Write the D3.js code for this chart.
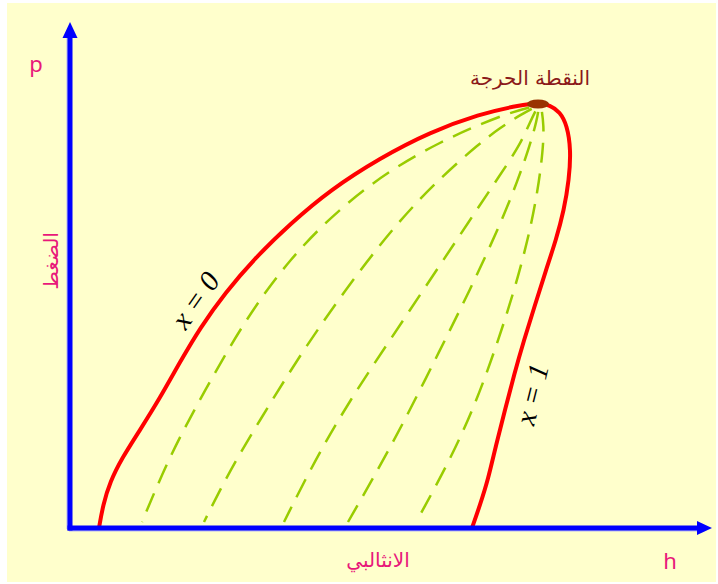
<!DOCTYPE html>
<html>
<head>
<meta charset="utf-8">
<script src="https://cdn.jsdelivr.net/npm/d3@7"></script>
<style>
  html, body { margin: 0; padding: 0; background: #fff; }
  svg { display: block; }
</style>
</head>
<body>
<div id="chart-container"></div>
<script>
// curve points, in (h, p) units
const liquidLine = [[2.9,0],[3.3,2.3],[4.0,4.6],[5.2,7.0],[7.0,9.8],[9.0,13.0],[11.0,16.6],[13.0,20.0],[15.5,23.5],[18.5,27.0],[22.0,30.4],[26.0,33.8],[31.0,37.0],[36.0,39.6],[41.0,41.4],[44.5,42.2],[46.8,42.5]];
const vaporLine = [[46.8,42.5],[48.0,42.3],[49.0,41.6],[49.7,40.3],[50.1,37.8],[49.9,34.8],[49.4,31.8],[48.6,28.8],[47.6,25.8],[46.5,22.3],[45.4,18.8],[44.4,15.3],[43.5,11.8],[42.6,8.3],[41.8,4.8],[41.0,2.3],[40.2,0]];
const qualityLines = [
  [[46.5,42.2],[44.2,41.6],[41.3,40.5],[37.0,38.6],[32.0,35.8],[27.0,32.0],[22.0,27.0],[17.5,20.8],[13.5,13.8],[10.0,7.3],[7.2,0.6]],
  [[46.7,42.2],[45.0,41.3],[43.0,40.0],[41.0,38.5],[37.0,35.0],[32.5,30.3],[27.5,23.8],[23.0,17.3],[19.0,10.8],[16.0,5.8],[13.4,0.6]],
  [[46.8,42.2],[46.0,40.6],[45.0,38.3],[43.0,35.3],[40.0,30.8],[36.0,24.8],[32.0,18.8],[28.0,12.8],[24.5,6.8],[21.4,0.6]],
  [[46.9,42.2],[46.7,40.8],[46.0,38.3],[44.8,34.8],[43.0,30.3],[40.0,23.8],[37.0,17.8],[33.5,10.8],[30.5,5.3],[27.8,0.6]],
  [[47.1,42.2],[47.4,40.3],[47.3,37.8],[46.8,33.8],[45.8,28.8],[44.3,23.3],[42.5,17.8],[40.5,12.3],[38.0,6.8],[35.0,1.3]]
];
const criticalPoint = [46.8, 42.4];

const hDomain = [0, 64], pDomain = [0, 50];
const labels = { p: "p", h: "h", pressure: "الضغط", enthalpy: "الانثالبي", critical: "النقطة الحرجة", x0: "x = 0", x1: "x = 1" };

const W = 718, H = 584;
const svg = d3.select("#chart-container").append("svg")
  .attr("width", W).attr("height", H);

svg.append("rect")
  .attr("x", 7).attr("y", 3).attr("width", 709).attr("height", 579)
  .attr("fill", "#ffffcc");

const x = d3.scaleLinear().domain(hDomain).range([70, 710]);
const y = d3.scaleLinear().domain(pDomain).range([528, 28]);

const line = d3.line()
  .x(d => x(d[0]))
  .y(d => y(d[1]))
  .curve(d3.curveBasis);

// dashed constant-quality lines
svg.selectAll(".quality")
  .data(qualityLines)
  .enter()
  .append("path")
  .attr("class", "quality")
  .attr("d", line)
  .attr("fill", "none")
  .attr("stroke", "#99cc00")
  .attr("stroke-width", 2.5)
  .attr("stroke-dasharray", "20,11")
  .attr("stroke-dashoffset", -6);

// saturation dome
[liquidLine, vaporLine].forEach(pts => {
  svg.append("path")
    .attr("d", line(pts))
    .attr("fill", "none")
    .attr("stroke", "#ff0000")
    .attr("stroke-width", 4)
    .attr("stroke-linecap", "round");
});

// axes
const x0 = x(0), y0 = y(0);
const xEnd = x(64) + 2, yEnd = y(50) - 6;

const shadow = svg.append("g").attr("stroke", "#b8b8f0").attr("stroke-width", 5);
shadow.append("line").attr("x1", x0 - 1).attr("y1", y0 + 1).attr("x2", xEnd - 14).attr("y2", y0 + 1);
shadow.append("line").attr("x1", x0 - 1).attr("y1", y0 + 1).attr("x2", x0 - 1).attr("y2", yEnd + 14);

const axes = svg.append("g").attr("stroke", "#0000ff").attr("stroke-width", 5);
axes.append("line").attr("x1", x0 - 2.5).attr("y1", y0).attr("x2", xEnd - 12).attr("y2", y0);
axes.append("line").attr("x1", x0).attr("y1", y0 + 2.5).attr("x2", x0).attr("y2", yEnd + 12);

svg.append("path")
  .attr("d", `M${xEnd},${y0} L${xEnd - 15},${y0 - 7} L${xEnd - 15},${y0 + 7} Z`)
  .attr("fill", "#0000ff");
svg.append("path")
  .attr("d", `M${x0},${yEnd} L${x0 - 7.5},${yEnd + 16} L${x0 + 7.5},${yEnd + 16} Z`)
  .attr("fill", "#0000ff");

// critical point
svg.append("ellipse")
  .attr("cx", x(criticalPoint[0]))
  .attr("cy", y(criticalPoint[1]))
  .attr("rx", 11).attr("ry", 4.5)
  .attr("fill", "#993300");

// texts
const pink = "#e8187a";
svg.append("text").attr("x", 36).attr("y", 72).attr("text-anchor", "middle")
  .attr("font-family", "Noto Sans, sans-serif").attr("font-size", 22).attr("fill", pink)
  .text(labels.p);
svg.append("text").attr("x", 670).attr("y", 569).attr("text-anchor", "middle")
  .attr("font-family", "Noto Sans, sans-serif").attr("font-size", 22).attr("fill", pink)
  .text(labels.h);
svg.append("text")
  .attr("transform", "translate(58,261) rotate(-90)")
  .attr("text-anchor", "middle")
  .attr("font-family", "DejaVu Sans, sans-serif").attr("font-size", 20).attr("fill", pink)
  .text(labels.pressure);
svg.append("text").attr("x", 378).attr("y", 567).attr("text-anchor", "middle")
  .attr("font-family", "DejaVu Sans, sans-serif").attr("font-size", 20).attr("fill", pink)
  .text(labels.enthalpy);
svg.append("text").attr("x", 530).attr("y", 85).attr("text-anchor", "middle")
  .attr("font-family", "DejaVu Sans, sans-serif").attr("font-size", 20).attr("fill", "#8b1a1a")
  .text(labels.critical);

svg.append("text")
  .attr("transform", "translate(198,302) rotate(-55)")
  .attr("text-anchor", "middle").attr("dominant-baseline", "middle")
  .attr("font-family", "Liberation Serif, serif").attr("font-style", "italic")
  .attr("font-size", 29).attr("fill", "#000")
  .text(labels.x0);
svg.append("text")
  .attr("transform", "translate(535,395) rotate(-76)")
  .attr("text-anchor", "middle").attr("dominant-baseline", "middle")
  .attr("font-family", "Liberation Serif, serif").attr("font-style", "italic")
  .attr("font-size", 29).attr("fill", "#000")
  .text(labels.x1);
</script>
</body>
</html>
